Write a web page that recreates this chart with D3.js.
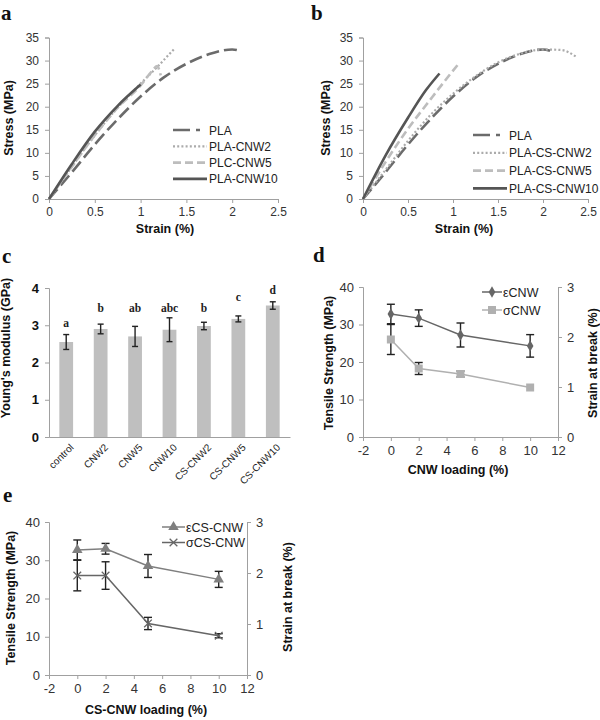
<!DOCTYPE html>
<html>
<head>
<meta charset="utf-8">
<script src="https://cdn.jsdelivr.net/npm/d3@7"></script>
<style>
  body { margin: 0; background: #fff; }
  text { font-family: "Liberation Sans", Arial, sans-serif; }
</style>
</head>
<body>
<script>
// panel a and b: stress-strain curves, [strain %, stress MPa]
const curvePLA = [[0,0],[0.25,5.8],[0.5,11.8],[0.75,17.3],[1,22.2],[1.25,26.3],[1.5,29.3],[1.75,31.4],[2,32.4],[2.1,32]]
const curveCNW2 = [[0,0],[0.25,7],[0.5,13.8],[0.75,19.8],[1,25],[1.2,29],[1.37,32.6]]
const curveCNW5 = [[0,0],[0.25,7],[0.5,13.8],[0.75,19.8],[1,24.6],[1.12,27.6],[1.18,28.8],[1.22,26.8]]
const curveCNW10 = [[0,0],[0.25,7.6],[0.5,14.6],[0.75,20.2],[1,24.8]]
const curveCSCNW2 = [[0,0],[0.25,6.3],[0.5,12.6],[0.75,18.2],[1,22.8],[1.25,26.6],[1.5,29.6],[1.75,31.5],[2,32.4],[2.2,32.3],[2.37,30.8]]
const curveCSCNW5 = [[0,0],[0.25,8],[0.5,15.2],[0.75,21.6],[0.95,26.6],[1.05,29]]
const curveCSCNW10 = [[0,0],[0.25,9.4],[0.5,17.6],[0.7,23.6],[0.85,27.2]]
const legendA = ['PLA', 'PLA-CNW2', 'PLC-CNW5', 'PLA-CNW10']
const legendB = ['PLA', 'PLA-CS-CNW2', 'PLA-CS-CNW5', 'PLA-CS-CNW10']

// panel c: Young's modulus
const samples = ['control', 'CNW2', 'CNW5', 'CNW10', 'CS-CNW2', 'CS-CNW5', 'CS-CNW10']
const modulus = [2.55, 2.9, 2.7, 2.88, 2.98, 3.17, 3.53]
const modulusErr = [0.2, 0.13, 0.27, 0.32, 0.1, 0.08, 0.1]
const groups = ['a', 'b', 'ab', 'abc', 'b', 'c', 'd']
const groupLevel = [2.95, 3.36, 3.36, 3.36, 3.36, 3.65, 3.84]

// panels d and e: loading (%)
const loading = [0, 2, 5, 10]
const strengthCNW = [32.8, 31.7, 27.2, 24.3]
const strengthCNWErr = [2.6, 2.2, 3.2, 3.0]
const strainCNW = [1.95, 1.37, 1.26, 0.99]
const strainCNWErr = [0.3, 0.12, 0.06, 0]
const strengthCS = [32.7, 33.0, 28.5, 25.0]
const strengthCSErr = [2.6, 1.4, 3.0, 2.1]
const strainCS = [1.95, 1.95, 1.01, 0.77]
const strainCSErr = [0.3, 0.27, 0.12, 0.04]

const svg = d3.select('body').append('svg')
  .attr('width', 600)
  .attr('height', 720)

const axisGray = '#a0a0a0'
const serif = '"Liberation Serif", "DejaVu Serif", serif'

const styleAxis = (g, bold) => {
  g.selectAll('path, line').attr('stroke', axisGray)
  g.selectAll('text')
    .attr('fill', '#333')
    .attr('font-size', 12)
    .attr('font-weight', bold ? 'bold' : 'normal')
}

const panelLetter = (x, y, s) => {
  svg.append('text')
    .attr('x', x).attr('y', y)
    .style('font-family', serif)
    .attr('font-weight', 'bold')
    .attr('font-size', 21)
    .attr('fill', '#111')
    .text(s)
}

const title = (x, y, s, rotate) => {
  svg.append('text')
    .attr('transform', `translate(${x},${y})` + (rotate ? ' rotate(-90)' : ''))
    .attr('text-anchor', 'middle')
    .attr('font-weight', 'bold')
    .attr('font-size', 12.5)
    .attr('fill', '#111')
    .text(s)
}

const curveStyles = [
  { color: '#6b6b6b', dash: '13,5', width: 2.6 },
  { color: '#ababab', dash: '2,2.2', width: 2.2 },
  { color: '#bdbdbd', dash: '8,4', width: 2.6 },
  { color: '#555', dash: null, width: 2.6 }
]

const StressPanel = (x0, x1, curves, names, legendX, legendY, legendStep) => {
  const x = d3.scaleLinear().domain([0, 2.5]).range([x0, x1])
  const y = d3.scaleLinear().domain([0, 35]).range([199, 37.5])

  const gx = svg.append('g')
    .attr('transform', `translate(0,${y(0)})`)
    .call(d3.axisBottom(x).tickValues([0, 0.5, 1, 1.5, 2, 2.5]).tickSize(4).tickPadding(4).tickFormat(d => String(d)))
  styleAxis(gx)
  const gy = svg.append('g')
    .attr('transform', `translate(${x0},0)`)
    .call(d3.axisLeft(y).ticks(7).tickSize(4).tickPadding(6))
  styleAxis(gy)

  const line = d3.line()
    .x(d => x(d[0]))
    .y(d => y(d[1]))
    .curve(d3.curveMonotoneX)

  curves.forEach((c, i) => {
    const st = curveStyles[i]
    svg.append('path')
      .attr('d', line(c))
      .attr('fill', 'none')
      .attr('stroke', st.color)
      .attr('stroke-width', st.width)
      .attr('stroke-dasharray', st.dash)
  })

  names.forEach((n, i) => {
    const st = curveStyles[i]
    const ly = legendY + i * legendStep
    svg.append('line')
      .attr('x1', legendX).attr('x2', legendX + 34)
      .attr('y1', ly).attr('y2', ly)
      .attr('stroke', st.color)
      .attr('stroke-width', st.width)
      .attr('stroke-dasharray', i === 0 ? '17,6,4,20' : st.dash)
    svg.append('text')
      .attr('x', legendX + 36).attr('y', ly + 4.5)
      .attr('font-size', 12)
      .attr('fill', '#222')
      .text(n)
  })
}

// a
panelLetter(1, 20, 'a')
StressPanel(49, 278, [curvePLA, curveCNW2, curveCNW5, curveCNW10], legendA, 173, 130, 16.3)
title(13, 118, 'Stress (MPa)', true)
title(165, 233, 'Strain (%)')

// b
panelLetter(311, 20, 'b')
StressPanel(363, 588, [curvePLA, curveCSCNW2, curveCSCNW5, curveCSCNW10], legendB, 473, 135, 17.8)
title(330, 118, 'Stress (MPa)', true)
title(464, 233, 'Strain (%)')

// c
panelLetter(2, 263, 'c')
{
  const x = d3.scaleBand().domain(samples).range([49, 290]).paddingInner(0.6).paddingOuter(0.3)
  const y = d3.scaleLinear().domain([0, 4]).range([437, 288])

  const gy = svg.append('g')
    .attr('transform', 'translate(49,0)')
    .call(d3.axisLeft(y).ticks(4).tickSize(4).tickPadding(6))
  styleAxis(gy, true)
  gy.selectAll('text').attr('fill', '#111').attr('font-size', 13)

  svg.selectAll('rect.bar')
    .data(samples)
    .enter()
    .append('rect')
    .attr('class', 'bar')
    .attr('x', d => x(d))
    .attr('width', x.bandwidth())
    .attr('y', (d, i) => y(modulus[i]))
    .attr('height', (d, i) => y(0) - y(modulus[i]))
    .attr('fill', '#bfbfbf')

  const gx = svg.append('g')
    .attr('transform', `translate(0,${y(0)})`)
    .call(d3.axisBottom(x).tickSize(0).tickPadding(5))
  styleAxis(gx)
  gx.selectAll('text')
    .attr('font-size', 10)
    .attr('fill', '#222')
    .attr('text-anchor', 'end')
    .attr('transform', 'translate(1,4) rotate(-45)')
    .attr('dy', '0.5em')

  const cx = d => x(d) + x.bandwidth() / 2
  samples.forEach((s, i) => {
    const lo = y(modulus[i] - modulusErr[i])
    const hi = y(modulus[i] + modulusErr[i])
    svg.append('line').attr('x1', cx(s)).attr('x2', cx(s)).attr('y1', lo).attr('y2', hi)
      .attr('stroke', '#222').attr('stroke-width', 1.4)
    ;[lo, hi].forEach(v => {
      svg.append('line').attr('x1', cx(s) - 3).attr('x2', cx(s) + 3).attr('y1', v).attr('y2', v)
        .attr('stroke', '#222').attr('stroke-width', 1.4)
    })
    svg.append('text')
      .attr('x', cx(s)).attr('y', y(groupLevel[i]))
      .attr('text-anchor', 'middle')
      .style('font-family', serif)
      .attr('font-weight', 'bold')
      .attr('font-size', 11.5)
      .attr('fill', '#222')
      .text(groups[i])
  })
  title(10, 348, "Young's modulus (GPa)", true)
}

const LoadingPanel = (o) => {
  const x = d3.scaleLinear().domain([-2, 12]).range([o.x0, o.x1])
  const yL = d3.scaleLinear().domain([0, 40]).range([o.y0, o.y1])
  const yR = d3.scaleLinear().domain([0, 3]).range([o.y0, o.y1])

  const gx = svg.append('g')
    .attr('transform', `translate(0,${o.y0})`)
    .call(d3.axisBottom(x).tickValues(d3.range(-2, 13, 2)).tickSize(4).tickPadding(5).tickFormat(d => String(d)))
  styleAxis(gx)
  gx.selectAll('text').attr('font-size', 13)
  const gl = svg.append('g')
    .attr('transform', `translate(${o.x0},0)`)
    .call(d3.axisLeft(yL).ticks(4).tickSize(4).tickPadding(5))
  styleAxis(gl)
  gl.selectAll('text').attr('font-size', 13)
  const gr = svg.append('g')
    .attr('transform', `translate(${o.x1},0)`)
    .call(d3.axisRight(yR).ticks(3).tickSize(4).tickPadding(5))
  styleAxis(gr)
  gr.selectAll('text').attr('font-size', 13)

  const series = [
    { vals: o.strength, err: o.strengthErr, y: yL, color: o.c1, sym: o.sym1, stroke: false },
    { vals: o.strain, err: o.strainErr, y: yR, color: o.c2, sym: o.sym2, stroke: o.sym2Stroke }
  ]

  const errorBars = s => {
    loading.forEach((l, i) => {
      if (!s.err[i]) return
      const lo = s.y(s.vals[i] - s.err[i])
      const hi = s.y(s.vals[i] + s.err[i])
      svg.append('line').attr('x1', x(l)).attr('x2', x(l)).attr('y1', lo).attr('y2', hi)
        .attr('stroke', '#222').attr('stroke-width', 1.4)
      ;[lo, hi].forEach(v => {
        svg.append('line').attr('x1', x(l) - 4).attr('x2', x(l) + 4).attr('y1', v).attr('y2', v)
          .attr('stroke', '#222').attr('stroke-width', 1.4)
      })
    })
  }

  const marker = (g, s, mx, my) => {
    const m = g.append('path')
      .attr('transform', `translate(${mx},${my})`)
      .attr('d', d3.symbol(s.sym[0], s.sym[1])())
    if (s.stroke) {
      m.attr('fill', 'none').attr('stroke', s.color).attr('stroke-width', 1.3)
    } else {
      m.attr('fill', s.color)
    }
  }

  series.slice().reverse().forEach(s => {
    const line = d3.line().x((d, i) => x(loading[i])).y(d => s.y(d))
    svg.append('path').attr('d', line(s.vals))
      .attr('fill', 'none').attr('stroke', s.color).attr('stroke-width', 1.5)
    errorBars(s)
    s.vals.forEach((v, i) => marker(svg, s, x(loading[i]), s.y(v)))
  })

  o.names.forEach((n, i) => {
    const s = series[i]
    const ly = o.ly + i * o.lstep
    svg.append('line').attr('x1', o.lx).attr('x2', o.lx + o.lw).attr('y1', ly).attr('y2', ly)
      .attr('stroke', s.color).attr('stroke-width', 1.5)
    marker(svg, s, o.lx + o.lw / 2, ly)
    svg.append('text')
      .attr('x', o.lx + o.lw + 1).attr('y', ly + 4.5)
      .attr('font-size', 12.5)
      .attr('fill', '#222')
      .text(n)
  })
}

// d
panelLetter(313, 262, 'd')
LoadingPanel({
  x0: 363, x1: 558, y0: 437, y1: 287,
  strength: strengthCNW, strengthErr: strengthCNWErr,
  strain: strainCNW, strainErr: strainCNWErr,
  c1: '#666', c2: '#b0b0b0',
  sym1: [d3.symbolDiamond, 38], sym2: [d3.symbolSquare, 64], sym2Stroke: false,
  names: ['\u03b5CNW', '\u03c3CNW'],
  lx: 482, lw: 20, ly: 292, lstep: 18
})
title(333, 363, 'Tensile Strength (MPa)', true)
title(597, 363, 'Strain at break (%)', true)
title(458, 474, 'CNW loading (%)')

// e
panelLetter(3, 502, 'e')
LoadingPanel({
  x0: 49, x1: 247, y0: 675, y1: 522,
  strength: strengthCS, strengthErr: strengthCSErr,
  strain: strainCS, strainErr: strainCSErr,
  c1: '#7f7f7f', c2: '#666',
  sym1: [d3.symbolTriangle, 48], sym2: [d3.symbolX, 40], sym2Stroke: true,
  names: ['\u03b5CS-CNW', '\u03c3CS-CNW'],
  lx: 162, lw: 23, ly: 527, lstep: 15.5
})
title(15, 598, 'Tensile Strength (MPa)', true)
title(292, 597, 'Strain at break (%)', true)
title(146, 714, 'CS-CNW loading (%)')
</script>
</body>
</html>
